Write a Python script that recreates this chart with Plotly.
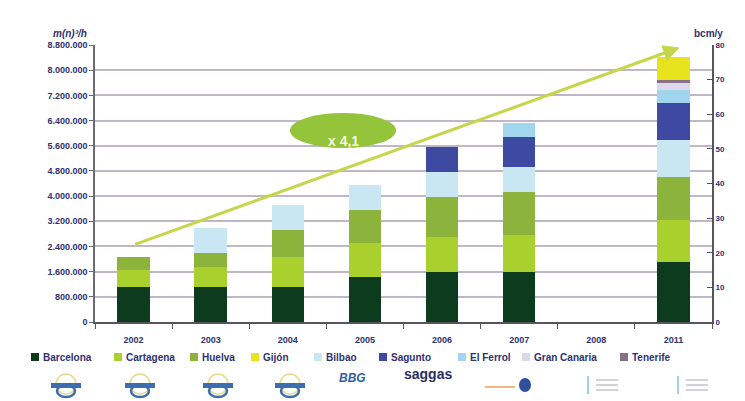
import plotly.graph_objects as go

# Regasification capacity by terminal, m(n)3/h
years = ["2002", "2003", "2004", "2005", "2006", "2007", "2008", "2011"]
barcelona = [1100000, 1100000, 1100000, 1430000, 1590000, 1590000, None, 1910000]
cartagena = [560000, 640000, 950000, 1080000, 1110000, 1180000, None, 1330000]
huelva = [390000, 450000, 860000, 1050000, 1270000, 1370000, None, 1370000]
bilbao = [None, 800000, 800000, 800000, 800000, 800000, None, 1180000]
sagunto = [None, None, None, None, 800000, 950000, None, 1180000]
el_ferrol = [None, None, None, None, None, 440000, None, 410000]
gran_canaria = [None, None, None, None, None, None, None, 220000]
tenerife = [None, None, None, None, None, None, None, 100000]
gijon = [None, None, None, None, None, None, None, 730000]

left_ticks = [0, 800000, 1600000, 2400000, 3200000, 4000000, 4800000,
              5600000, 6400000, 7200000, 8000000, 8800000]
left_labels = ["0", "800.000", "1.600.000", "2.400.000", "3.200.000", "4.000.000",
               "4.800.000", "5.600.000", "6.400.000", "7.200.000", "8.000.000", "8.800.000"]
right_ticks = [0, 10, 20, 30, 40, 50, 60, 70, 80]
right_labels = ["0", "10", "20", "30", "40", "50", "60", "70", "80"]

growth_label = "x 4,1"
trend_start = 2450000
trend_end = 8720000

NAVY = "#2e3170"
FONT = "Liberation Sans"

# (name, values, colour) in stacking order
series = [
    ("Barcelona", barcelona, "#0c3b1d"),
    ("Cartagena", cartagena, "#a9d02c"),
    ("Huelva", huelva, "#8cb43c"),
    ("Bilbao", bilbao, "#c9e6f3"),
    ("Sagunto", sagunto, "#3e4aa2"),
    ("El Ferrol", el_ferrol, "#a2d6ef"),
    ("Gran Canaria", gran_canaria, "#dcd8ea"),
    ("Tenerife", tenerife, "#86708a"),
    ("Gijón", gijon, "#e8e31c"),
]
# key order along the bottom, with the left edge of each key swatch (px)
legend_order = ["Barcelona", "Cartagena", "Huelva", "Gijón", "Bilbao",
                "Sagunto", "El Ferrol", "Gran Canaria", "Tenerife"]
legend_x = [31, 114, 190, 251, 314, 379, 458, 522, 620]

fig = go.Figure()
for name, vals, col in series:
    fig.add_trace(go.Bar(
        x=years, y=vals, name=name, marker=dict(color=col, line=dict(width=0)),
        width=0.42, showlegend=False,
    ))

# keeps the secondary (bcm/y) axis on the page
fig.add_trace(go.Scatter(x=[years[0]], y=[0], yaxis="y2", mode="markers",
                         marker=dict(size=1, opacity=0), showlegend=False,
                         hoverinfo="skip"))

W, H = 745, 401
L, R, T, B = 95, 33, 45, 79
PW, PH = W - L - R, H - T - B


def px(x, y):
    """Pixel position on the page -> paper coordinates."""
    return (x - L) / PW, (H - B - y) / PH


shapes = []
annotations = []

# key row
colours = {name: col for name, _, col in series}
for name, kx in zip(legend_order, legend_x):
    x0, y1 = px(kx, 353)
    x1, y0 = px(kx + 8, 361)
    shapes.append(dict(type="rect", xref="paper", yref="paper", x0=x0, x1=x1,
                       y0=y0, y1=y1, fillcolor=colours[name], line=dict(width=0)))
    tx, ty = px(kx + 10, 357)
    annotations.append(dict(xref="paper", yref="paper", x=tx, y=ty, text=name,
                            xanchor="left", yanchor="middle", showarrow=False,
                            font=dict(family=FONT, size=10, color=NAVY, weight="bold")))

# growth badge
ex0, ey1 = px(290, 113)
ex1, ey0 = px(396, 148)
shapes.append(dict(type="circle", xref="paper", yref="paper", x0=ex0, x1=ex1,
                   y0=ey0, y1=ey1, fillcolor="#93c43a", line=dict(width=0),
                   layer="above"))
bx, by = px(343, 130.5)
annotations.append(dict(xref="paper", yref="paper", x=bx, y=by, text=growth_label,
                        showarrow=False, font=dict(family=FONT, size=14, color="#f4f7df",
                                                   weight="bold")))

# trend arrow
annotations.append(dict(x=7.08, y=trend_end, xref="x", yref="y",
                        ax=0, ay=trend_start, axref="x", ayref="y",
                        showarrow=True, arrowhead=2, arrowsize=1.1, arrowwidth=3,
                        arrowcolor="#c6d64a", text=""))

# axis unit labels
ux, uy = px(70, 33)
annotations.append(dict(xref="paper", yref="paper", x=ux, y=uy, text="m(n)³/h",
                        xanchor="center", yanchor="middle",
                        showarrow=False, font=dict(family=FONT, size=10, color=NAVY,
                                                   weight="bold", style="italic")))
vx, vy = px(708, 33)
annotations.append(dict(xref="paper", yref="paper", x=vx, y=vy, text="bcm/y",
                        xanchor="center", yanchor="middle",
                        showarrow=False, font=dict(family=FONT, size=10, color=NAVY,
                                                   weight="bold")))

# partner logos along the bottom
for cx in (66, 140, 218, 290):
    x0, y1 = px(cx - 10, 374)
    x1, y0 = px(cx + 10, 394)
    shapes.append(dict(type="circle", xref="paper", yref="paper", x0=x0, x1=x1,
                       y0=y0, y1=y1, line=dict(color="#e6d98a", width=1.5)))
    x0, y1 = px(cx - 9, 385)
    x1, y0 = px(cx + 9, 397)
    shapes.append(dict(type="circle", xref="paper", yref="paper", x0=x0, x1=x1,
                       y0=y0, y1=y1, line=dict(color="#3b6db0", width=2.5)))
    x0, y1 = px(cx - 15, 383)
    x1, y0 = px(cx + 15, 388)
    shapes.append(dict(type="rect", xref="paper", yref="paper", x0=x0, x1=x1,
                       y0=y0, y1=y1, fillcolor="#3b6db0", line=dict(width=0)))

lx, ly = px(352, 387)
annotations.append(dict(xref="paper", yref="paper", x=lx, y=ly, text="BBG",
                        showarrow=False, font=dict(family=FONT, size=12, color="#2f5fa8",
                                                   weight="bold", style="italic")))
lx, ly = px(428, 384)
annotations.append(dict(xref="paper", yref="paper", x=lx, y=ly, text="saggas",
                        showarrow=False, font=dict(family=FONT, size=14, color="#2a2e62",
                                                   weight="bold")))
ox0, oy = px(485, 387)
ox1, _ = px(515, 387)
shapes.append(dict(type="line", xref="paper", yref="paper", x0=ox0, x1=ox1, y0=oy, y1=oy,
                   line=dict(color="#f0a060", width=1.5)))
rx0, ry1 = px(519, 378)
rx1, ry0 = px(531, 392)
shapes.append(dict(type="circle", xref="paper", yref="paper", x0=rx0, x1=rx1, y0=ry0, y1=ry1,
                   fillcolor="#2f4f9c", line=dict(width=0)))
for cx in (588, 678):
    sx, sy0 = px(cx, 394)
    _, sy1 = px(cx, 376)
    shapes.append(dict(type="line", xref="paper", yref="paper", x0=sx, x1=sx, y0=sy0, y1=sy1,
                       line=dict(color="#9fd0e8", width=2)))
    for dy in (380, 385, 390):
        tx0, ty = px(cx + 8, dy)
        tx1, _ = px(cx + 30, dy)
        shapes.append(dict(type="line", xref="paper", yref="paper", x0=tx0, x1=tx1,
                           y0=ty, y1=ty, line=dict(color="#d2d2dc", width=2)))

fig.update_layout(
    width=W, height=H,
    margin=dict(l=L, r=R, t=T, b=B),
    paper_bgcolor="white", plot_bgcolor="white",
    barmode="stack",
    font=dict(family=FONT, color=NAVY),
    showlegend=False,
    xaxis=dict(type="category", categoryorder="array", categoryarray=years,
               showline=True, linecolor="#555560", linewidth=1.5,
               ticks="outside", tickson="boundaries", ticklen=5, tickcolor="#555560",
               ticklabelstandoff=8,
               tickfont=dict(family=FONT, size=9, color=NAVY, weight="bold"),
               showgrid=False, range=[-0.5, 7.5]),
    yaxis=dict(range=[0, 8800000], tickvals=left_ticks, ticktext=left_labels,
               showline=True, linecolor="#6a6a75", linewidth=1.5,
               ticks="outside", ticklen=4, tickcolor="#6a6a75",
               tickfont=dict(family=FONT, size=9, color=NAVY, weight="bold"),
               showgrid=True, gridcolor="#bfb7c8", gridwidth=1.6, zeroline=False),
    yaxis2=dict(range=[0, 80], tickvals=right_ticks, ticktext=right_labels,
                overlaying="y", side="right", showgrid=False, zeroline=False,
                showline=True, linecolor="#555560", linewidth=2,
                ticks="inside", ticklen=5, tickcolor="#555560",
                tickfont=dict(family=FONT, size=8, color=NAVY, weight="bold")),
    shapes=shapes,
    annotations=annotations,
)

fig.write_html("out.html")
